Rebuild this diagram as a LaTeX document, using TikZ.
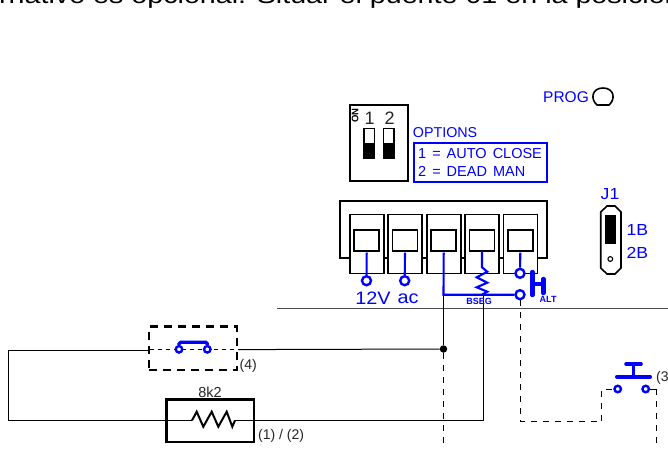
\documentclass[tikz,border=0pt]{standalone}
\usepackage{fontspec}
\setmainfont{Liberation Sans}
\newfontfamily\widefont[FakeStretch=1.22]{Liberation Sans}
\newfontfamily\midfont[FakeStretch=1.1]{Liberation Sans}
\usetikzlibrary{calc}
\definecolor{bl}{RGB}{0,0,255}
\tikzset{
  wire/.style={black,line width=1pt},
  dashwire/.style={black,line width=1pt,dash pattern=on 6pt off 6pt},
  frame/.style={black,line width=1.6pt},
  bwire/.style={bl,line width=2.1pt},
  term/.style={circle,draw=bl,line width=2.4pt,minimum size=#1,inner sep=0pt,fill=white},
  term/.default=9pt,
  btext/.style={text=bl,inner sep=0pt,font=\fontsize{#1}{#1}\selectfont\midfont},
  ptext/.style={text=bl,inner sep=0pt,font=\fontsize{#1}{#1}\selectfont},
  ktext/.style={text=black!85,inner sep=0pt,font=\fontsize{#1}{#1}\selectfont},
  blockbox/.style={draw=black,line width=1.6pt,inner sep=0pt,minimum width=34pt,minimum height=59pt},
  innerbox/.style={draw=black,line width=1.6pt,inner sep=0pt,minimum width=25pt,minimum height=21pt},
}
\begin{document}
\begin{tikzpicture}[x=1pt,y=-1pt]
\useasboundingbox (0,0) rectangle (668,448);
\clip (0,0) rectangle (668,448);
\fill[white] (0,0) rectangle (668,448);
% top cut text
\node[anchor=base west,inner sep=0pt,text=black,font=\fontsize{23.5}{23.5}\selectfont\widefont] (toptext) at (-1,3) {rnativo es opcional. Situar el puente 01 en la posición};
% PROG
\node[ptext=15.5,anchor=west] (prog) at (543,97) {PROG};
\draw[frame] (597,105) .. controls (590,99) and (592,88) .. (603,88) .. controls (614,88) and (616,99) .. (609,105) -- cycle;
% DIP
\node[draw=black,line width=1.6pt,minimum width=57.5pt,minimum height=76pt,inner sep=0pt] (dip) at (379,143) {};
\node[text=black,inner sep=0pt,rotate=90,font=\fontsize{9.5}{9.5}\selectfont\bfseries] (onlab) at (355,115.5) {ON};
\node[ktext=18] (d1) at (369.5,118) {1};
\node[ktext=18] (d2) at (389.5,118) {2};
\foreach \n/\x in {a/364,b/383.3}{
  \draw[black,line width=1.2pt] (\x,128.5) rectangle (\x+10.7,158.3);
  \fill[black] (\x,142.5) rectangle (\x+10.7,158.3);
}
% options
\node[ptext=14.3,anchor=west] (opt) at (412.7,132.5) {OPTIONS};
\draw[bl,line width=1.6pt] (414,142.7) rectangle (546.7,181.7);
\node[ptext=14.5,anchor=west] (o1) at (418,153.5) {1\hspace{6pt}=\hspace{6pt}AUTO\hspace{6pt}CLOSE};
\node[ptext=14.5,anchor=west] (o2) at (418,171) {2\hspace{6pt}=\hspace{6pt}DEAD\hspace{6pt}MAN};
% J1
\node[btext=16] (j1) at (610,194) {J1};
\draw[frame] (607,206) -- (615,206) -- (621,212) -- (621,268) -- (615,274) -- (607,274) -- (600.7,268) -- (600.7,212) -- cycle;
\fill[black] (605.3,215) rectangle (616,244);
\draw[black,line width=1.1pt] (610.3,259) circle (2.4);
\node[btext=16,anchor=west] (b1) at (626.5,230) {1B};
\node[btext=16,anchor=west] (b2) at (626.5,253) {2B};
% terminal frame
\draw[frame] (350,258) -- (340,258) -- (340,200.7) -- (547,200.7) -- (547,258) -- (537,258);
\foreach \a/\b in {383.7/388,422.3/426.7,460.7/464.7,499/503.3}{\draw[frame] (\a,258) -- (\b,258);}
\foreach \n/\x in {1/366.7,2/405,3/443.7,4/482,5/520.3}{
  \node[blockbox] (blk\n) at (\x,243.8) {};
  \node[innerbox,anchor=north] (sq\n) at (\x,229) {};
}
% gray line
\coordinate (gl) at (277,308.3);
\coordinate (gr) at (668,308.3);
\draw[black!70,line width=1pt] (gl) -- (gr);
% lower wires
\coordinate (lt) at (8.3,350.4);
\coordinate (lb) at (8.3,420.4);
\node[circle,fill=black,inner sep=0pt,minimum size=7.5pt] (dot) at (443.5,349) {};
\node[draw=black,line width=2.3pt,dash pattern=on 8pt off 6pt,minimum width=87.5pt,minimum height=43.5pt,inner sep=0pt] (swbox) at (193,348.3) {};
\node[draw=black,line width=2.4pt,minimum width=87.5pt,minimum height=42.5pt,inner sep=0pt] (resbox) at (210.3,420.7) {};
\node[ktext=14.5] (rv) at (210,392) {8k2};
\node[ktext=14,anchor=west] (l4) at (239.5,365.5) {(4)};
\node[ktext=14,anchor=west] (l12) at (258,436) {(1) / (2)};
\node[ktext=14,anchor=west] (l3) at (656,378) {(3};
\coordinate (swl) at (148,350.4);
\coordinate (swr) at (238,349.6);
\draw[wire] (swl) -- (lt) -- (lb) -- (192,420.4);
\draw[wire] (swr) -- (dot);
\draw[wire,line width=.9pt,dash pattern=on 4pt off 4pt] (150,349.7) -- (237,349.7);
% resistor black
\coordinate (rzl) at (192,420.4);
\coordinate (rzr) at (235,420.4);
\draw[black,line width=2pt,line join=miter] (rzl) -- (196.7,411.7) -- (203.3,426.7) -- (211.7,411.7) -- (218.3,426.7) -- (226.7,411.7) -- (232.3,426.7) -- (rzr);
\coordinate (bsegdown) at (483.5,295);
\coordinate (bsegend) at (483.5,420.4);
\draw[wire] (rzr) -- (bsegend) -- (bsegdown);
% terminals
\node[term] (t1) at (366.5,280.7) {};
\node[term] (t2) at (404.7,280.7) {};
\node[term] (t5) at (520,273.3) {};
\node[term] (t6) at (520,294.7) {};
\node[btext=18] (v12) at (373,298.5) {12V};
\node[btext=18] (vac) at (408,298.5) {ac};
\draw[bwire] (sq1.south) ++(0,1) -- (t1);
\draw[bwire] (sq2.south) ++(0,1) -- (t2);
\draw[bwire] (sq5.south) ++(0,1) -- (t5);
\coordinate (j3) at (443.5,294.7);
\draw[wire] (j3) -- (dot);
\draw[bwire] (sq3.south) ++(0,1) -- (j3) -- (t6);
\draw[dashwire] (dot) -- (443.5,448);
% BSEG resistor
\draw[bwire,line join=miter] (482,251) -- (482,267.3) -- (487.3,271.7) -- (476.7,277.3) -- (487.3,282.7) -- (476.7,287.3) -- (487.3,291.7) -- (482,294.7);
\node[inner sep=0pt,text=bl,font=\fontsize{9}{9}\selectfont\bfseries] (bseg) at (479,301.7) {BSEG};
% ALT switch
\draw[bl,line width=4.4pt,line cap=round] (532.3,272) -- (532.3,295);
\draw[bl,line width=3.6pt] (532.3,284) -- (543.3,284);
\draw[bl,line width=4.4pt,line cap=round] (543.3,279) -- (543.3,293);
\node[inner sep=0pt,text=bl,font=\fontsize{9}{9}\selectfont\bfseries,anchor=west] (alt) at (539.5,299.5) {ALT};
% right dashed
\coordinate (d0) at (520.4,300);
\coordinate (d1c) at (520.4,421.7);
\coordinate (d2c) at (601.7,421.7);
\coordinate (d3c) at (601.7,389);
\node[term=6.5pt] (sa) at (617.7,389) {};
\node[term=6.5pt] (sb) at (645.7,389) {};
\draw[dashwire] (d0) -- (d1c) -- (d2c) -- (d3c) -- (sa.west);
\coordinate (e1) at (656.7,389);
\draw[wire] (sb) -- (e1);
\draw[dashwire] (e1) -- (656.7,448);
\draw[bl,line width=4pt,line cap=round] (617,376.7) -- (650,376.7);
\draw[bl,line width=3.4pt] (633.3,364) -- (633.3,376.7);
\draw[bl,line width=3.6pt,line cap=round] (626,364) -- (641,364);
% open switch blue
\node[term=6.5pt] (s4a) at (179,349.3) {};
\node[term=6.5pt] (s4b) at (207.3,349.3) {};
\draw[bl,line width=3.2pt,rounded corners=1.5pt] (s4a.north) -- (179,342.3) -- (207.3,342.3) -- (s4b.north);
\end{tikzpicture}
\end{document}
